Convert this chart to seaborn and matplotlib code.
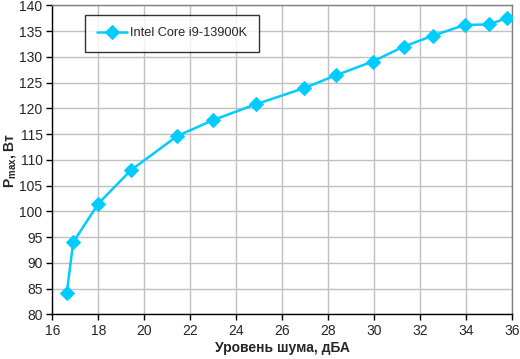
import numpy as np
import pandas as pd
import matplotlib
matplotlib.use("Agg")
import matplotlib.pyplot as plt
import seaborn as sns

noise_dba = [16.63, 16.91, 18.0, 19.42, 21.42, 22.98, 24.85, 26.93, 28.32,
             29.93, 31.28, 32.54, 33.93, 34.97, 35.76]
pmax_w = [84.2, 94.0, 101.5, 108.0, 114.6, 117.7, 120.8, 123.9, 126.4,
          129.1, 132.0, 134.1, 136.2, 136.3, 137.5]
series_name = "Intel Core i9-13900K"
x_ticks = list(range(16, 37, 2))
y_ticks = list(range(80, 141, 5))

df = pd.DataFrame({"x": noise_dba, "y": pmax_w, "cpu": series_name})

sns.set_style("white")
plt.rcParams["font.family"] = ["Liberation Sans", "DejaVu Sans"]

fig = plt.figure(figsize=(5.2, 3.59), dpi=100)
ax = fig.add_axes([0.1006, 0.1245, 0.8846, 0.8605])

color = "#00CCFF"
sns.lineplot(data=df, x="x", y="y", hue="cpu", palette=[color], marker="D",
             markersize=7, markeredgecolor=color, linewidth=1.8, ax=ax,
             sort=False, zorder=3)

ax.set_xlim(16, 36)
ax.set_ylim(80, 140)
ax.set_xticks(x_ticks)
ax.set_yticks(y_ticks)
ax.grid(True, color="#C0C0C0", linewidth=1)
ax.set_axisbelow(True)

for side in ["left", "bottom"]:
    ax.spines[side].set_color("black")
    ax.spines[side].set_linewidth(1)
for side in ["top", "right"]:
    ax.spines[side].set_color("#808080")
    ax.spines[side].set_linewidth(1)

ax.tick_params(axis="both", direction="out", length=4, width=1, color="black",
               labelsize=10, pad=3, left=True, bottom=True)

ax.set_xlabel("Уровень шума, дБА", fontsize=10, fontweight="bold", labelpad=2)
ax.set_ylabel(r"P$_{\mathregular{max}}$, Вт", fontsize=10, fontweight="bold", labelpad=1)

leg = ax.legend(loc="upper left", bbox_to_anchor=(0.07, 0.968), frameon=True,
                fancybox=False, edgecolor="black", fontsize=9.2,
                handlelength=2.4, handletextpad=0.2, borderpad=0.95,
                borderaxespad=0)
leg.get_frame().set_linewidth(1)

fig.savefig("out.png", dpi=100)
plt.close()
